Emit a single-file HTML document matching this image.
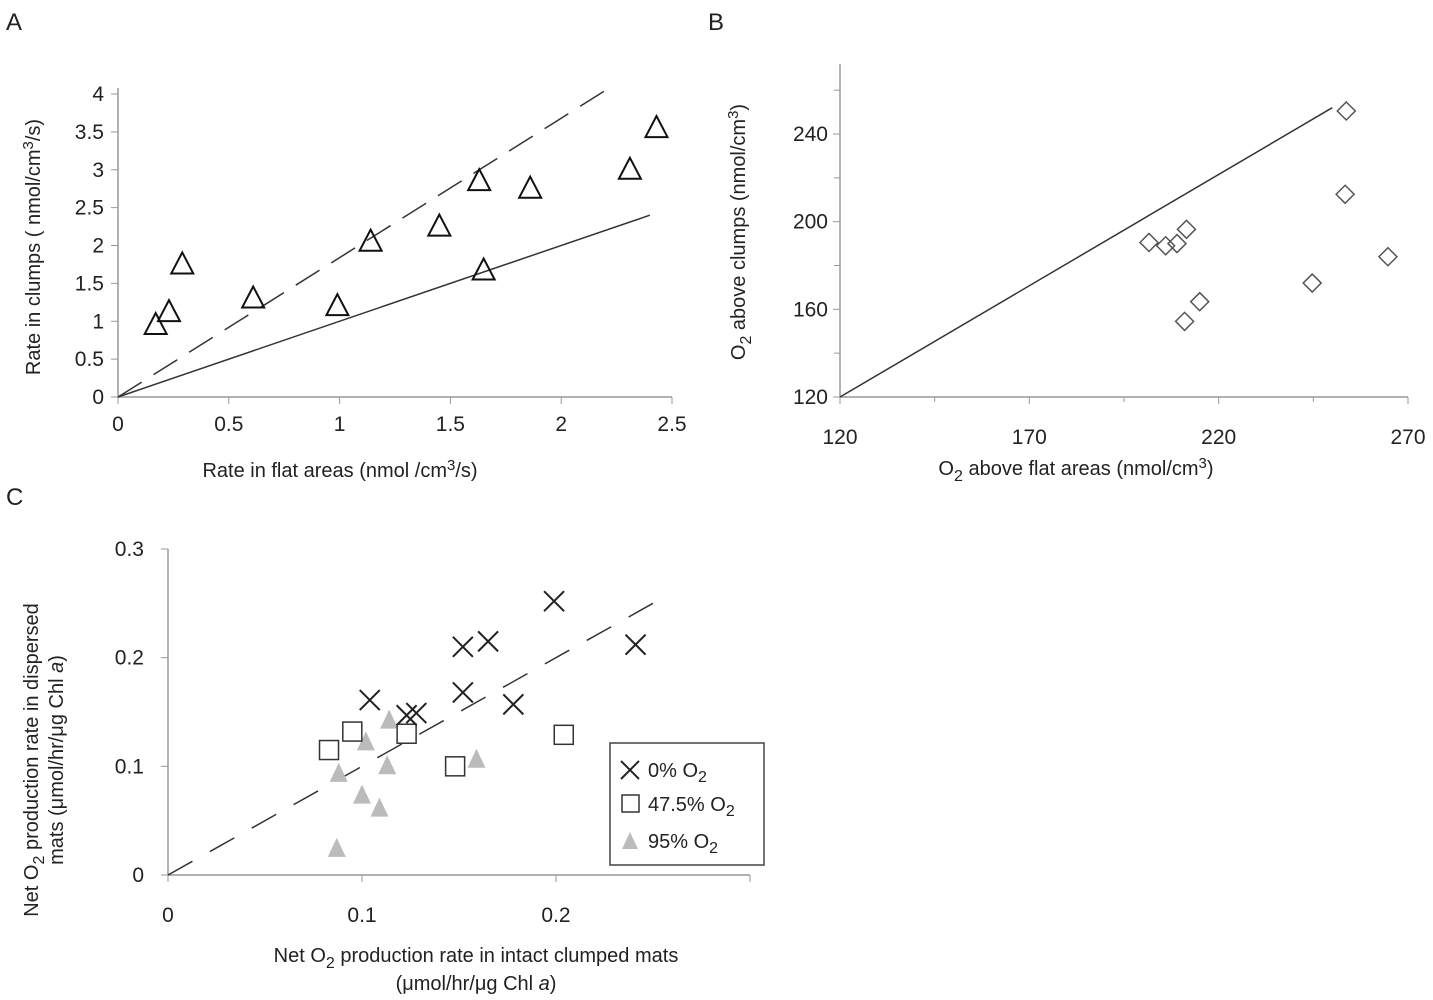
<!DOCTYPE html>
<html><head><meta charset="utf-8"><style>
html,body{margin:0;padding:0;background:#fff;}
svg{display:block;font-family:"Liberation Sans",sans-serif;}
text{fill:#222;}
</style></head><body>
<svg id="fig" width="1433" height="1000" viewBox="0 0 1433 1000">
<text x="6" y="30" font-size="24">A</text>
<text x="708" y="30" font-size="24">B</text>
<text x="6" y="505" font-size="24">C</text>
<g id="pa"></g>
<g id="pb"></g>
<g id="pc"></g>
<text transform="translate(40,247) rotate(-90)" text-anchor="middle" font-size="20">Rate in clumps ( nmol/cm<tspan dy="-7" font-size="15">3</tspan><tspan dy="7">/s)</tspan></text>
<text x="340" y="477" text-anchor="middle" font-size="20">Rate in flat areas (nmol /cm<tspan dy="-7" font-size="15">3</tspan><tspan dy="7">/s)</tspan></text>
<text transform="translate(745,232) rotate(-90)" text-anchor="middle" font-size="20">O<tspan dy="6" font-size="16">2</tspan><tspan dy="-6"> above clumps (nmol/cm</tspan><tspan dy="-7" font-size="15">3</tspan><tspan dy="7">)</tspan></text>
<text x="1076" y="475" text-anchor="middle" font-size="20">O<tspan dy="6" font-size="16">2</tspan><tspan dy="-6"> above flat areas (nmol/cm</tspan><tspan dy="-7" font-size="15">3</tspan><tspan dy="7">)</tspan></text>
<text transform="translate(38,760) rotate(-90)" text-anchor="middle" font-size="20">Net O<tspan dy="6" font-size="16">2</tspan><tspan dy="-6"> production rate in dispersed</tspan></text>
<text transform="translate(63,760) rotate(-90)" text-anchor="middle" font-size="20">mats (μmol/hr/μg Chl <tspan font-style="italic">a</tspan>)</text>
<text x="476" y="962" text-anchor="middle" font-size="20">Net O<tspan dy="6" font-size="16">2</tspan><tspan dy="-6"> production rate in intact clumped mats</tspan></text>
<text x="476" y="990" text-anchor="middle" font-size="20">(μmol/hr/μg Chl <tspan font-style="italic">a</tspan>)</text>
<g>
<rect x="610" y="743" width="154" height="122" fill="#fff" stroke="#444" stroke-width="1.5"/>
<path d="M621 761 L639 779 M639 761 L621 779" stroke="#222" stroke-width="2"/>
<text x="648" y="777" font-size="20">0% O<tspan dy="5" font-size="16">2</tspan></text>
<rect x="622" y="795" width="17" height="17" fill="#fff" stroke="#333" stroke-width="1.5"/>
<text x="648" y="811" font-size="20">47.5% O<tspan dy="5" font-size="16">2</tspan></text>
<path d="M622 849 L630 832 L638 849 Z" fill="#bbb"/>
<text x="648" y="848" font-size="20">95% O<tspan dy="5" font-size="16">2</tspan></text>
</g>
</svg>
<script>
// Panel A data
const aX = [0.17,0.23,0.29,0.61,0.99,1.14,1.45,1.63,1.65,1.86,2.31,2.43];
const aY = [0.95,1.12,1.75,1.30,1.20,2.05,2.25,2.85,1.67,2.75,3.00,3.55];
const aTicksX = ["0","0.5","1","1.5","2","2.5"];
const aTicksY = ["0","0.5","1","1.5","2","2.5","3","3.5","4"];
// Panel B data
const bX = [201.6,206,209,211.5,211,215,244.7,253.7,253.4,264.7];
const bY = [190.5,189,190,196.5,154.5,163.5,172,250.5,212.5,184];
const bTicks = ["120","170","220","270"];
const bTicksY = ["120","160","200","240"];
// Panel C data
const c0X = [0.104,0.123,0.128,0.152,0.165,0.152,0.178,0.199,0.241];
const c0Y = [0.161,0.147,0.149,0.210,0.215,0.168,0.157,0.252,0.212];
const c47X = [0.083,0.095,0.123,0.148,0.204];
const c47Y = [0.115,0.132,0.130,0.100,0.129];
const c95X = [0.087,0.088,0.102,0.100,0.113,0.109,0.114,0.159];
const c95Y = [0.025,0.094,0.123,0.074,0.101,0.062,0.143,0.107];
const cTicksX = ["0","0.1","0.2"];
const cTicksY = ["0","0.1","0.2","0.3"];

const NS="http://www.w3.org/2000/svg";
function mk(parent,tag,attrs){const e=document.createElementNS(NS,tag);for(const k in attrs)e.setAttribute(k,attrs[k]);parent.appendChild(e);return e;}

// Panel A
const pa=document.getElementById('pa');
const ax=v=>118+v*(672-118)/2.5, ay=v=>397-v*(397-94)/4;
mk(pa,'line',{x1:118,y1:397,x2:672,y2:397,stroke:'#999','stroke-width':1.5});
mk(pa,'line',{x1:118,y1:397,x2:118,y2:88,stroke:'#999','stroke-width':1.5});
aTicksX.forEach(t=>{const v=+t;mk(pa,'line',{x1:ax(v),y1:397,x2:ax(v),y2:404,stroke:'#999'});
 const tx=mk(pa,'text',{x:ax(v),y:431,'text-anchor':'middle','font-size':21});tx.textContent=t;
 
 });
aTicksY.forEach(t=>{const v=+t;mk(pa,'line',{x1:111,y1:ay(v),x2:118,y2:ay(v),stroke:'#999'});
 const tx=mk(pa,'text',{x:104,y:ay(v)+7,'text-anchor':'end','font-size':21});tx.textContent=t;
 
 });
let l=mk(pa,'line',{x1:ax(0),y1:ay(0),x2:ax(2.4),y2:ay(2.4),stroke:'#333','stroke-width':1.5});


l=mk(pa,'line',{x1:ax(0),y1:ay(0),x2:ax(2.2),y2:ay(2.2*1.84),stroke:'#333','stroke-width':1.5,'stroke-dasharray':'28 14'});


aX.forEach((x,i)=>{const cx=ax(x),cy=ay(aY[i]);
 const p=mk(pa,'path',{d:`M${cx-11} ${cy+9} L${cx} ${cy-12} L${cx+11} ${cy+9} Z`,fill:'none',stroke:'#111','stroke-width':2});
 
 });

// Panel B
const pb=document.getElementById('pb');
const bx=v=>840+(v-120)*(1408-840)/150, by=v=>397-(v-120)*(397-134)/120;
mk(pb,'line',{x1:840,y1:397,x2:1408,y2:397,stroke:'#999','stroke-width':1.5});
mk(pb,'line',{x1:840,y1:397,x2:840,y2:64,stroke:'#999','stroke-width':1.5});
bTicks.forEach(t=>{const v=+t;mk(pb,'line',{x1:bx(v),y1:397,x2:bx(v),y2:404,stroke:'#999'});
 const tx=mk(pb,'text',{x:bx(v),y:444,'text-anchor':'middle','font-size':21});tx.textContent=t;
 
 });
bTicksY.forEach(t=>{const v=+t;mk(pb,'line',{x1:833,y1:by(v),x2:840,y2:by(v),stroke:'#999'});
 const tx=mk(pb,'text',{x:828,y:by(v)+7,'text-anchor':'end','font-size':21});tx.textContent=t;
 
 });
[140,180,220,260].forEach(v=>mk(pb,'line',{x1:834,y1:by(v),x2:840,y2:by(v),stroke:'#999'}));
[145,195,245].forEach(v=>mk(pb,'line',{x1:bx(v),y1:397,x2:bx(v),y2:402,stroke:'#999'}));
l=mk(pb,'line',{x1:bx(120),y1:by(120),x2:bx(250),y2:by(252),stroke:'#333','stroke-width':1.5});


bX.forEach((x,i)=>{const cx=bx(x),cy=by(bY[i]);
 const p=mk(pb,'path',{d:`M${cx} ${cy-9} L${cx+9} ${cy} L${cx} ${cy+9} L${cx-9} ${cy} Z`,fill:'none',stroke:'#555','stroke-width':1.5});
 
 });

// Panel C
const pc=document.getElementById('pc');
const cx_=v=>168+v*1940, cy_=v=>875-v*(875-549)/0.3;
mk(pc,'line',{x1:168,y1:875,x2:750,y2:875,stroke:'#999','stroke-width':1.5});
mk(pc,'line',{x1:168,y1:875,x2:168,y2:549,stroke:'#999','stroke-width':1.5});
[0,0.1,0.2,0.3].forEach(v=>mk(pc,'line',{x1:cx_(v),y1:875,x2:cx_(v),y2:882,stroke:'#999'}));
cTicksX.forEach(t=>{const v=+t;
 const tx=mk(pc,'text',{x:cx_(v),y:922,'text-anchor':'middle','font-size':21});tx.textContent=t;
 
 });
cTicksY.forEach(t=>{const v=+t;mk(pc,'line',{x1:161,y1:cy_(v),x2:168,y2:cy_(v),stroke:'#999'});
 const tx=mk(pc,'text',{x:144,y:cy_(v)+7,'text-anchor':'end','font-size':21});tx.textContent=t;
 
 });
l=mk(pc,'line',{x1:cx_(0),y1:cy_(0),x2:cx_(0.25),y2:cy_(0.25),stroke:'#333','stroke-width':1.5,'stroke-dasharray':'28 20'});


c95X.forEach((x,i)=>{const px=cx_(x),py=cy_(c95Y[i]);
 const p=mk(pc,'path',{d:`M${px-9} ${py+9} L${px} ${py-10} L${px+9} ${py+9} Z`,fill:'#bbb'});
 
 });
c47X.forEach((x,i)=>{const px=cx_(x),py=cy_(c47Y[i]);
 const p=mk(pc,'rect',{x:px-9.5,y:py-9.5,width:19,height:19,fill:'#fff',stroke:'#333','stroke-width':1.5});
 
 });
c0X.forEach((x,i)=>{const px=cx_(x),py=cy_(c0Y[i]);
 const p=mk(pc,'path',{d:`M${px-10} ${py-10} L${px+10} ${py+10} M${px+10} ${py-10} L${px-10} ${py+10}`,stroke:'#222','stroke-width':2});
 
 });
</script>
</body></html>
